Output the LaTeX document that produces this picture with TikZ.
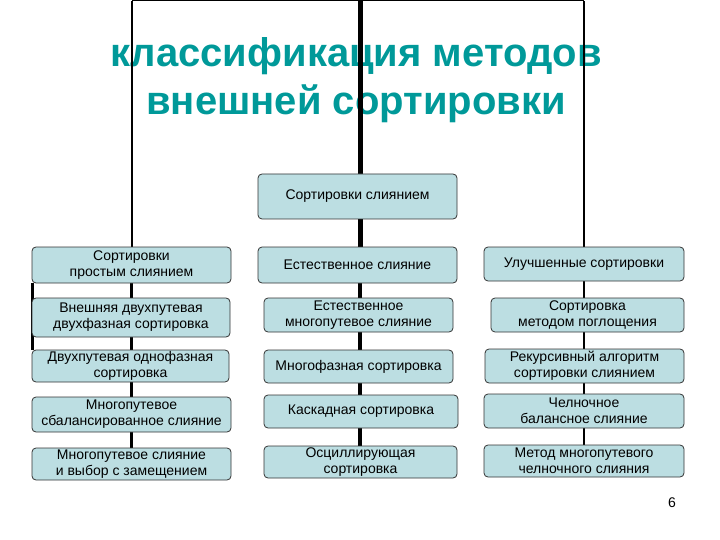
\documentclass[tikz,border=0pt]{standalone}
\usepackage{fontspec}
\setmainfont{Liberation Sans}
\definecolor{boxfill}{RGB}{188,222,226}
\definecolor{titleteal}{RGB}{0,153,153}
\pgfdeclarelayer{back}
\pgfdeclarelayer{lines}
\pgfsetlayers{back,lines,main}
\begin{document}
\begin{tikzpicture}[x=1pt,y=-1pt,
  box/.style={draw=black!80, line width=0.8pt, fill=boxfill, rounded corners=4pt,
    align=center, inner sep=0pt, font=\fontsize{14}{16.2}\selectfont},
  conn/.style={line width=2.8pt},
  thickconn/.style={line width=5pt},
  midconn/.style={line width=3.6pt},
  topline/.style={line width=1.2pt},
  titlestyle/.style={font=\fontsize{40}{48}\selectfont\bfseries, text=titleteal, align=center}]
\useasboundingbox (0,0) rectangle (720,540);

\begin{pgfonlayer}{back}
\node[titlestyle] (title) at (356,80) {классификация методов\\внешней сортировки};
\end{pgfonlayer}

% middle column
\node[box, minimum width=199pt, minimum height=45pt] (m0) at (357.5,196.5) {Сортировки слиянием};
\node[box, minimum width=199pt, minimum height=36pt] (m1) at (357.5,265) {Естественное слияние};
\node[box, minimum width=189pt, minimum height=34pt] (m2) at (358.5,315) {Естественное\\многопутевое слияние};
\node[box, minimum width=189pt, minimum height=33pt] (m3) at (358.5,366.5) {Многофазная сортировка};
\node[box, minimum width=194pt, minimum height=33pt] (m4) at (361,411.5) {Каскадная сортировка};
\node[box, minimum width=193pt, minimum height=32pt] (m5) at (360.5,462) {Осциллирующая\\сортировка};

% left column
\node[box, minimum width=199pt, minimum height=36pt] (l1) at (131.5,265) {Сортировки\\простым слиянием};
\node[box, minimum width=198pt, minimum height=39pt] (l2) at (131,317.5) {Внешняя двухпутевая\\двухфазная сортировка};
\node[box, minimum width=197pt, minimum height=32pt] (l3) at (130.5,366) {Двухпутевая однофазная\\сортировка};
\node[box, minimum width=199pt, minimum height=35pt] (l4) at (131.5,414.5) {Многопутевое\\сбалансированное слияние};
\node[box, minimum width=199pt, minimum height=32pt] (l5) at (131.5,464) {Многопутевое слияние\\и выбор с замещением};

% right column
\node[box, minimum width=200pt, minimum height=34pt] (r1) at (584,264) {Улучшенные сортировки};
\node[box, minimum width=193pt, minimum height=34pt] (r2) at (587.5,315) {Сортировка\\методом поглощения};
\node[box, minimum width=199pt, minimum height=34pt] (r3) at (584.5,366) {Рекурсивный алгоритм\\сортировки слиянием};
\node[box, minimum width=200pt, minimum height=34pt] (r4) at (584,411) {Челночное\\балансное слияние};
\node[box, minimum width=200pt, minimum height=32pt] (r5) at (584,461) {Метод многопутевого\\челночного слияния};

\node[font=\fontsize{14}{16}\selectfont] (pg) at (672,503) {6};

\begin{pgfonlayer}{lines}
\coordinate (tl) at (132,0.8);
\coordinate (tm) at (360,0);
\coordinate (tr) at (584,0.8);
\draw[topline] (tl) -- (tr);
\draw[conn] (tl) -- (tl |- l1.north);
\draw[conn] (tr) -- (tr |- r1.north);
\draw[thickconn] (tm) -- (tm |- m1.north);
\draw[midconn] (tm |- m1.south) -- (tm |- m5.north);
\draw[conn] (l1.south) -- (l5.north);
\draw[conn] (tr |- r1.south) -- (tr |- r5.north);
\draw[conn] ([xshift=1pt]l1.south west) -- ([xshift=1pt]l3.north west);
\end{pgfonlayer}
\end{tikzpicture}
\end{document}
